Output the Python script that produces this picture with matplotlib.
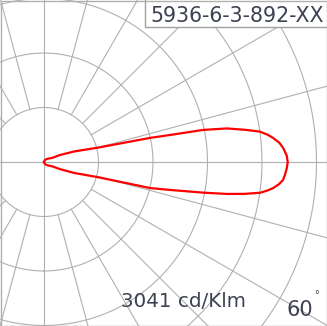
import numpy as np
import matplotlib.pyplot as plt
from matplotlib.patches import Rectangle

# luminous intensity (cd/klm) vs gamma angle (deg, 0 = nadir)
gamma_lower = [0, 20, 35, 50, 62, 66, 70, 74.2, 76.2, 77.5, 79.1, 80.1, 81, 81.9, 82.7,
               83.5, 84.6, 85.7, 87, 88.5, 90]
cd_lower = [0, 18, 40, 68, 115, 220, 400, 688, 1362, 1610, 2021, 2319, 2540, 2723, 2808,
            2877, 2945, 2991, 3011, 3030, 3041]
gamma_upper = [90, 91.5, 93.4, 94.7, 96, 97, 98, 99, 100.4, 101.4, 102.1, 102.8, 105,
               109.3, 113.6, 116.6, 130, 145, 160, 180]
cd_upper = [3041, 3030, 2988, 2945, 2874, 2808, 2721, 2558, 2321, 2024, 1610, 1360, 686,
            397, 218, 112, 65, 40, 18, 0]

title = "5936-6-3-892-XX"
max_label = "3041 cd/Klm"
angle_label = "60"

ring_step = 680
n_rings = 6
rmax = 4180

txt_color = "#3c4252"
grid_color = "#b0b0b0"

W, H = 327, 326
cx, cy = 44, 162   # centre of diagram in pixels (from top-left)
R = 335            # pixel radius of the polar axes

fig = plt.figure(figsize=(W / 100, H / 100), dpi=100)
ax = fig.add_axes([(cx - R) / W, (H - cy - R) / H, 2 * R / W, 2 * R / H], projection='polar')
ax.set_theta_zero_location('S')
ax.set_theta_direction(1)
ax.set_rlim(0, rmax)
ax.grid(False)
ax.set_xticks([])
ax.set_yticks([])
ax.spines['polar'].set_visible(False)

# rings
th = np.linspace(0, 2 * np.pi, 721)
for i in range(1, n_rings + 1):
    ax.plot(th, np.full_like(th, i * ring_step), color=grid_color, lw=0.8)

# radial lines every 15 deg, main axes go through the centre
for deg in range(0, 360, 15):
    r0 = 0 if deg % 90 == 0 else ring_step
    ax.plot([np.radians(deg)] * 2, [r0, rmax], color=grid_color, lw=0.8)

# intensity curve
gamma = np.radians(gamma_lower + gamma_upper[1:])
cd = cd_lower + cd_upper[1:]
ax.plot(gamma, cd, color='red', lw=1.6, solid_joinstyle='round')

# title box
fig.add_artist(Rectangle((145 / W, (H - 27) / H), 1, 1, transform=fig.transFigure,
                         facecolor='white', edgecolor='#a0a0a0', lw=1))
fig.text(150 / W, (H - 22) / H, title, fontsize=14.8, color=txt_color, va='baseline')

fig.text(121 / W, (H - 307) / H, max_label, fontsize=14.3, color=txt_color, va='baseline')
fig.text(287 / W, (H - 315.5) / H, angle_label, fontsize=15, color=txt_color, va='baseline')
fig.text(314 / W, (H - 298) / H, "°", fontsize=7, color=txt_color, va='baseline')

# outer frame
fig.add_artist(Rectangle((0.5 / W, 0.5 / H), (W - 1) / W, (H - 1) / H, transform=fig.transFigure,
                         fill=False, edgecolor='#b0b0b0', lw=1))

fig.savefig('out.png', dpi=100)
